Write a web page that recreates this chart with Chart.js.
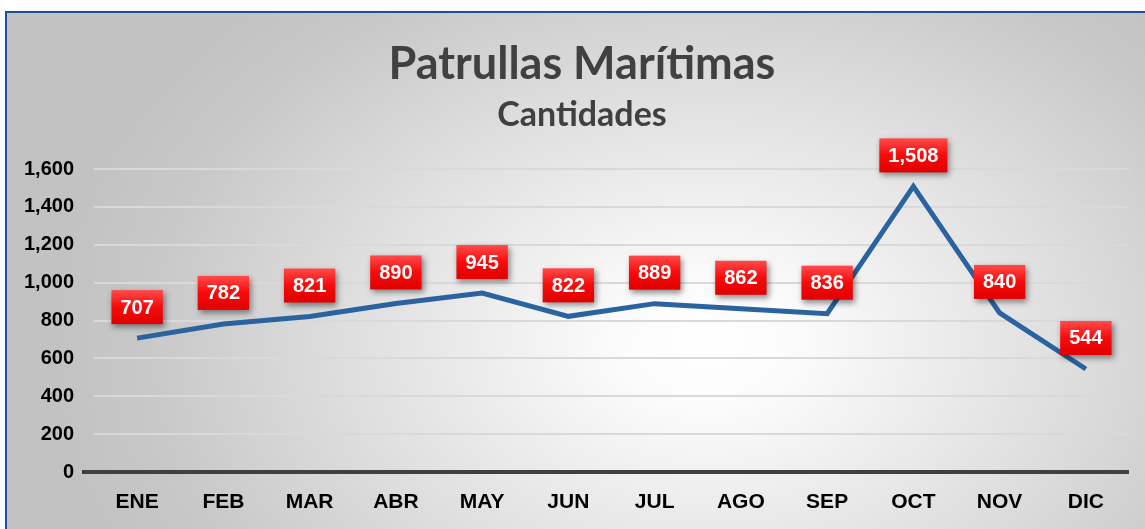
<!DOCTYPE html>
<html>
<head>
<meta charset="utf-8">
<script src="https://cdn.jsdelivr.net/npm/chart.js@4.4.1/dist/chart.umd.min.js"></script>
<style>
  html, body { margin: 0; padding: 0; background: #fff; overflow: hidden; }
  #frame {
    position: absolute; left: 5px; top: 11px; width: 1150px; height: 530px;
    border-left: 2px solid #1f4e9a; border-top: 2px solid #1f4e9a;
    background: radial-gradient(ellipse 660px 470px at 700px 330px, #ffffff 0%, #fbfbfb 14%, #dedede 55%, #c8c8c8 85%, #c2c2c2 100%);
  }
  #wrap { position: absolute; left: 0; top: 0; width: 1145px; height: 529px; }
</style>
</head>
<body>
<div id="frame"></div>
<div id="wrap"><canvas id="canvas" width="1145" height="529"></canvas></div>
<script>
var meses = ["ENE", "FEB", "MAR", "ABR", "MAY", "JUN", "JUL", "AGO", "SEP", "OCT", "NOV", "DIC"];
var patrullas = [707, 782, 821, 890, 945, 822, 889, 862, 836, 1508, 840, 544];
var yMax = 1600;
var yStep = 200;
var titulo = 'Patrullas Marítimas';
var subtitulo = 'Cantidades';

// titulo y subtitulo, centrados como en el original (algo a la derecha)
var titulos = {
  id: 'titulos',
  afterDraw: function(chart) {
    var ctx = chart.ctx;
    ctx.save();
    ctx.fillStyle = '#404040';
    ctx.textAlign = 'center';
    ctx.textBaseline = 'middle';
    ctx.font = 'bold 45px Lato, "Open Sans", sans-serif';
    ctx.fillText(titulo, 582, 64);
    ctx.font = 'bold 34px Lato, "Open Sans", sans-serif';
    ctx.fillText(subtitulo, 582, 115);
    ctx.restore();
  }
};

// linea del cero, un poco mas larga a la izquierda
var lineaCero = {
  id: 'lineaCero',
  beforeDatasetsDraw: function(chart) {
    var ctx = chart.ctx;
    var y = chart.scales.y.getPixelForValue(0);
    ctx.save();
    ctx.strokeStyle = '#404040';
    ctx.lineWidth = 4;
    ctx.beginPath();
    ctx.moveTo(chart.chartArea.left - 12, y);
    ctx.lineTo(chart.chartArea.right, y);
    ctx.stroke();
    ctx.restore();
  }
};

// etiquetas rojas sobre cada punto
var etiquetas = {
  id: 'etiquetas',
  afterDatasetsDraw: function(chart) {
    var ctx = chart.ctx;
    var meta = chart.getDatasetMeta(0);
    ctx.save();
    ctx.font = 'bold 20px "Liberation Sans", Arial, sans-serif';
    ctx.textAlign = 'center';
    ctx.textBaseline = 'middle';
    meta.data.forEach(function(pt, i) {
      var txt = patrullas[i].toLocaleString('en-US');
      var w = ctx.measureText(txt).width + 18;
      var h = 34;
      var cx = pt.x, cy = pt.y - 31;
      var x0 = cx - w / 2, y0 = cy - h / 2;
      var g = ctx.createLinearGradient(0, y0, 0, y0 + h);
      g.addColorStop(0, '#ff4a4a');
      g.addColorStop(0.5, '#f80a0a');
      g.addColorStop(1, '#e00000');
      ctx.shadowColor = 'rgba(0,0,0,0.45)';
      ctx.shadowBlur = 6;
      ctx.shadowOffsetX = 2;
      ctx.shadowOffsetY = 3;
      ctx.fillStyle = g;
      ctx.fillRect(x0, y0, w, h);
      ctx.shadowColor = 'transparent';
      ctx.fillStyle = '#ffffff';
      ctx.fillText(txt, cx, cy + 1);
    });
    ctx.restore();
  }
};

new Chart(document.getElementById("canvas"), {
  type: 'line',
  data: {
    labels: meses,
    datasets: [{
      data: patrullas,
      borderColor: '#2a63a0',
      borderWidth: 5,
      pointRadius: 0,
      tension: 0,
      fill: false
    }]
  },
  options: {
    responsive: false,
    animation: false,
    layout: { padding: { left: 24, right: 16, top: 169, bottom: 0 } },
    plugins: {
      legend: { display: false },
      tooltip: { enabled: false },
      title: { display: false }
    },
    scales: {
      x: {
        offset: true,
        grid: { display: false, drawTicks: false },
        border: { display: false },
        afterFit: function(s) { s.height = 57; },
        ticks: {
          color: '#000',
          padding: 18,
          font: { family: '"Liberation Sans", Arial, sans-serif', size: 21, weight: 'bold' }
        }
      },
      y: {
        min: 0,
        max: yMax,
        grid: { color: '#d9d9d9', lineWidth: 2, drawTicks: false },
        border: { display: false },
        afterFit: function(s) { s.width = 70; },
        ticks: {
          stepSize: yStep,
          color: '#000',
          padding: 20,
          font: { family: '"Liberation Sans", Arial, sans-serif', size: 20, weight: 'bold' },
          callback: function(v) { return v.toLocaleString('en-US'); }
        }
      }
    }
  },
  plugins: [titulos, lineaCero, etiquetas]
});
</script>
</body>
</html>
